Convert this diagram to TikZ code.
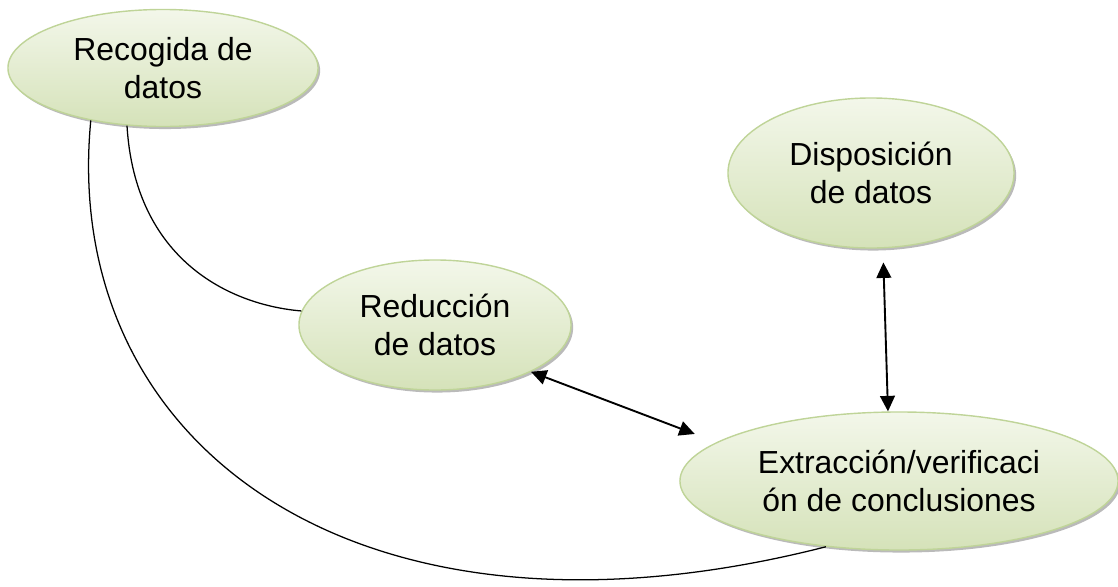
\documentclass[tikz,border=0pt]{standalone}
\usepackage{fontspec}
\setmainfont{Liberation Sans}
\usetikzlibrary{shapes.geometric, shadows, arrows.meta}
\definecolor{bubbletop}{HTML}{F3F7EA}
\definecolor{bubblebottom}{HTML}{D5E2B9}
\definecolor{bubbleedge}{HTML}{BFD498}

\begin{document}
\begin{tikzpicture}[x=0.025cm, y=-0.025cm,
        bubble/.style={ellipse, draw=bubbleedge, line width=1pt,
            top color=bubbletop, bottom color=bubblebottom, inner sep=0pt,
            align=center, font=\fontsize{22.7}{26.5}\selectfont,
            drop shadow={shadow xshift=1.5pt, shadow yshift=-1.8pt, fill=black!45, opacity=0.6}},
        link/.style={line width=0.9pt},
        both/.style={line width=1.35pt, {Triangle[length=11pt, width=10.5pt]}-{Triangle[length=11pt, width=10.5pt]}}]
        \useasboundingbox (0,0) rectangle (1118,586);

        \node[bubble, minimum width=7.75cm, minimum height=2.925cm] (rec) at (163,68) {Recogida de\\datos};
        \node[bubble, minimum width=7.15cm, minimum height=3.75cm] (dis) at (871,173) {Disposición\\de datos};
        \node[bubble, minimum width=6.8cm, minimum height=3.25cm] (red) at (435,325) {Reducción\\de datos};
        \node[bubble, minimum width=10.95cm, minimum height=3.45cm] (ext) at (899,481) {Extracción/verificaci\\ón de conclusiones};

        \draw[link] (rec.238) .. controls (135,260) and (230,305) .. (red.174);
        \draw[link] (rec.216) .. controls (60,440) and (350,668) .. (ext.222.6);

        \draw[both, shorten >=0.58cm] (red.334) -- (ext.168.5);
        \draw[both, shorten <=0.35cm] (dis.279) -- (ext.99.9);
\end{tikzpicture}
\end{document}
